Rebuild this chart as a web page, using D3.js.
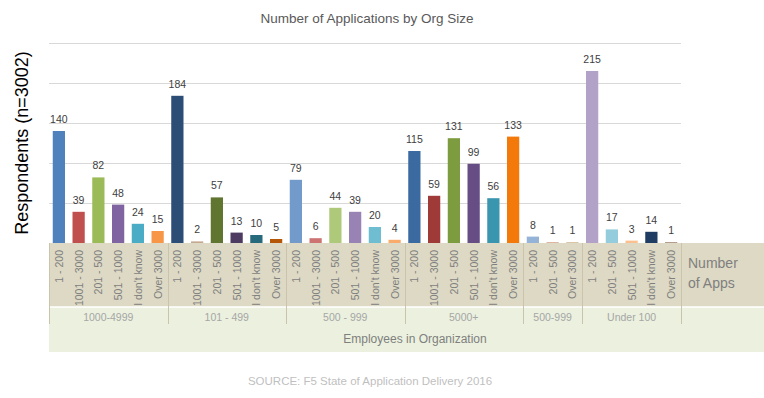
<!DOCTYPE html>
<html>
  <head>
    <meta charset="utf-8">
    <title>Number of Applications by Org Size</title>
    <script src="https://cdn.jsdelivr.net/npm/d3@7"></script>
    <style type="text/css">
      body { margin: 0; background: #fff; }
      text { font-family: "Liberation Sans", Arial, sans-serif; }
    </style>
  </head>
  <body>
    <script>
    // data
    var groups = ["1000-4999", "101 - 499", "500 - 999", "5000+", "500-999", "Under 100"];
    var groupApps = [
      ["1 - 200", "1001 - 3000", "201 - 500", "501 - 1000", "I don't know", "Over 3000"],
      ["1 - 200", "1001 - 3000", "201 - 500", "501 - 1000", "I don't know", "Over 3000"],
      ["1 - 200", "1001 - 3000", "201 - 500", "501 - 1000", "I don't know", "Over 3000"],
      ["1 - 200", "1001 - 3000", "201 - 500", "501 - 1000", "I don't know", "Over 3000"],
      ["1 - 200", "201 - 500", "Over 3000"],
      ["1 - 200", "201 - 500", "501 - 1000", "I don't know", "Over 3000"]
    ];
    var groupValues = [
      [140, 39, 82, 48, 24, 15],
      [184, 2, 57, 13, 10, 5],
      [79, 6, 44, 39, 20, 4],
      [115, 59, 131, 99, 56, 133],
      [8, 1, 1],
      [215, 17, 3, 14, 1]
    ];
    var groupColors = [
      ["#4f81bd", "#c0504d", "#9bbb59", "#8064a2", "#4bacc6", "#f79646"],
      ["#2c4d75", "#c4a890", "#5f7530", "#4d3b62", "#276a7c", "#b65708"],
      ["#729aca", "#cd7371", "#afc97a", "#9983b5", "#6fbdd1", "#f9ab6b"],
      ["#3a6aa0", "#9e3a38", "#7d9c40", "#664d84", "#3a95ae", "#f4790b"],
      ["#95b3d7", "#d5a48c", "#d0b890"],
      ["#b3a2c7", "#93cddd", "#fac090", "#1f3d63", "#a28575"]
    ];
    var yTicks = [0, 50, 100, 150, 200, 250];

    var width = 764, height = 398;
    var plotLeft = 49, plotRight = 681, baseY = 243, topY = 43;

    // flatten into one row per bar
    var bars = [];
    var groupSpans = [];
    groups.forEach(function(g, gi) {
      var start = bars.length;
      groupApps[gi].forEach(function(a, ai) {
        bars.push({group: g, app: a, value: groupValues[gi][ai], color: groupColors[gi][ai], i: bars.length});
      });
      groupSpans.push({name: g, start: start, end: bars.length});
    });

    var xScale = d3.scaleBand()
      .domain(d3.range(bars.length))
      .range([plotLeft, plotRight])
      .paddingInner(0.38)
      .paddingOuter(0.19);

    var slot = (plotRight - plotLeft) / bars.length;

    var yScale = d3.scaleLinear()
      .domain([0, 250])
      .range([baseY, topY]);

    var svg = d3.select("body")
      .append("svg")
        .attr("width", width)
        .attr("height", height);

    // title
    svg.append("text")
      .attr("x", 367).attr("y", 23)
      .attr("text-anchor", "middle")
      .attr("font-size", 13.5)
      .attr("fill", "#595959")
      .text("Number of Applications by Org Size");

    // y label
    svg.append("text")
      .attr("transform", "translate(28,143) rotate(-90)")
      .attr("text-anchor", "middle")
      .attr("font-size", 18)
      .attr("fill", "#000")
      .text("Respondents (n=3002)");

    // gridlines
    svg.append("g")
      .selectAll("line")
      .data(yTicks)
      .enter()
      .append("line")
        .attr("x1", plotLeft).attr("x2", plotRight)
        .attr("y1", function(d) { return yScale(d) + 0.5; })
        .attr("y2", function(d) { return yScale(d) + 0.5; })
        .attr("stroke", "#d9d9d9")
        .attr("stroke-width", 1);

    // bars
    svg.append("g")
      .selectAll("rect")
      .data(bars)
      .enter()
      .append("rect")
        .attr("x", function(d) { return xScale(d.i); })
        .attr("width", xScale.bandwidth())
        .attr("y", function(d) { return yScale(d.value); })
        .attr("height", function(d) { return Math.max(1, baseY - yScale(d.value)); })
        .attr("fill", function(d) { return d.color; });

    // value labels
    svg.append("g")
      .selectAll("text")
      .data(bars)
      .enter()
      .append("text")
        .attr("x", function(d) { return xScale(d.i) + xScale.bandwidth() / 2; })
        .attr("y", function(d) { return yScale(d.value) - 8; })
        .attr("text-anchor", "middle")
        .attr("font-size", 10.5)
        .attr("fill", "#404040")
        .text(function(d) { return d.value; });

    // category bands
    svg.append("rect")
      .attr("x", plotLeft).attr("y", baseY)
      .attr("width", width - plotLeft).attr("height", 64)
      .attr("fill", "#ddd9c4");
    svg.append("rect")
      .attr("x", plotLeft).attr("y", baseY + 64)
      .attr("width", width - plotLeft).attr("height", 45)
      .attr("fill", "#ebf1de");
    svg.append("line")
      .attr("x1", plotLeft).attr("x2", width)
      .attr("y1", baseY + 64).attr("y2", baseY + 64)
      .attr("stroke", "#fff").attr("stroke-width", 1.5);

    // group separators
    var sepX = [plotLeft].concat(groupSpans.map(function(s) { return plotLeft + s.end * slot; }));
    svg.append("g")
      .selectAll("line")
      .data(sepX)
      .enter()
      .append("line")
        .attr("x1", function(d) { return Math.round(d) + 0.5; })
        .attr("x2", function(d) { return Math.round(d) + 0.5; })
        .attr("y1", baseY).attr("y2", baseY + 81)
        .attr("stroke", "#c9c4ab")
        .attr("stroke-width", 1);

    // app labels
    svg.append("g")
      .selectAll("text")
      .data(bars)
      .enter()
      .append("text")
        .attr("transform", function(d) {
          return "translate(" + (xScale(d.i) + xScale.bandwidth() / 2 + 4) + "," + (baseY + 7) + ") rotate(-90)";
        })
        .attr("text-anchor", "end")
        .attr("font-size", 10.5)
        .attr("fill", "#7f7f7f")
        .text(function(d) { return d.app; });

    // group labels
    svg.append("g")
      .selectAll("text")
      .data(groupSpans)
      .enter()
      .append("text")
        .attr("x", function(d) { return plotLeft + (d.start + d.end) / 2 * slot; })
        .attr("y", baseY + 78)
        .attr("text-anchor", "middle")
        .attr("font-size", 10.5)
        .attr("fill", "#a6a6a6")
        .text(function(d) { return d.name; });

    svg.append("text")
      .attr("x", 415).attr("y", 343)
      .attr("text-anchor", "middle")
      .attr("font-size", 12)
      .attr("fill", "#7f7f7f")
      .text("Employees in Organization");

    svg.append("text")
      .attr("x", 688).attr("y", 268)
      .attr("font-size", 14)
      .attr("fill", "#7f7f7f")
      .text("Number");
    svg.append("text")
      .attr("x", 688).attr("y", 288)
      .attr("font-size", 14)
      .attr("fill", "#7f7f7f")
      .text("of Apps");

    svg.append("text")
      .attr("x", 370).attr("y", 385)
      .attr("text-anchor", "middle")
      .attr("font-size", 11.5)
      .attr("fill", "#bfbfbf")
      .text("SOURCE: F5 State of Application Delivery 2016");
    </script>
  </body>
</html>
